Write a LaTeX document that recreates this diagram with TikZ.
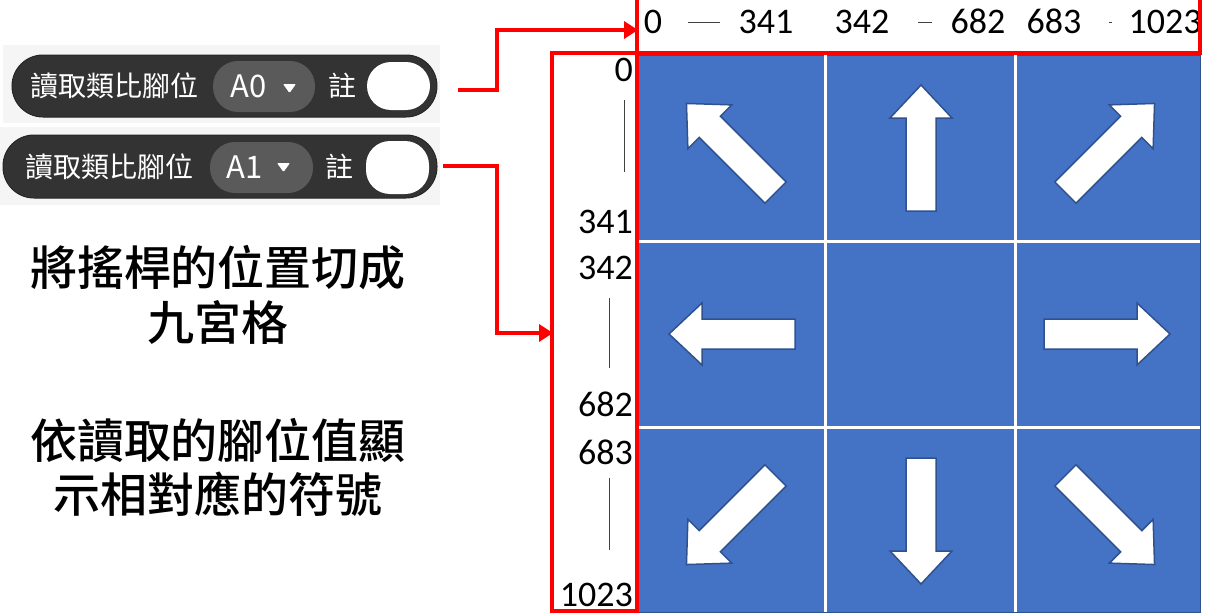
\documentclass[tikz,border=0pt]{standalone}
\usepackage{fontspec}
\setmainfont{Carlito}
\newfontfamily\cjk{Noto Sans CJK TC}
\newfontfamily\cjkb{Noto Sans CJK TC Medium}
\usetikzlibrary{arrows.meta}
\definecolor{cellblue}{HTML}{4472C4}
\definecolor{edgeblue}{HTML}{2F528F}
\definecolor{pilldark}{HTML}{333333}
\definecolor{ddgray}{HTML}{5A5A5A}
\definecolor{bggray}{HTML}{F5F5F5}
\definecolor{numgray}{HTML}{404040}
\tikzset{
  redline/.style={draw=red, line width=3.5pt},
  redarrow/.style={red, line width=3.5pt, -{Triangle[length=14pt,width=17pt]}},
  pill/.style={fill=pilldark, draw=black!85, line width=1pt, rounded corners=31pt},
  dropdown/.style={fill=ddgray, rounded corners=25pt},
  notebox/.style={fill=white, rounded corners=24pt},
  pilltext/.style={text=white, font=\cjk\fontsize{28}{30}\selectfont, inner sep=0pt},
  ddtext/.style={text=white, font=\cjk\fontsize{31}{33}\selectfont, inner sep=0pt},
  num/.style={font=\fontsize{36}{38}\selectfont, inner sep=0pt, anchor=base},
  tick/.style={draw=numgray, line width=1pt},
  bigtext/.style={font=\cjkb\fontsize{47}{54}\selectfont, inner sep=0pt},
  blockarr/.style={fill=white, draw=edgeblue, line width=1.5pt, line join=miter},
  gridline/.style={draw=white, line width=3pt}
}
\newcommand\BlkArrow[3]{%
  \draw[blockarr, shift={(#1,#2)}, rotate=#3]
    (-63,-15) -- (30,-15) -- (30,-31) -- (63,0) -- (30,31) -- (30,15) -- (-63,15) -- cycle;}
\begin{document}
\begin{tikzpicture}[x=1pt,y=-1pt]
\useasboundingbox (0,0) rectangle (1210,613);
% ---- blocks
\fill[bggray] (3,45) rectangle (440,123);
\fill[bggray] (0,127) rectangle (440,205);
\path[pill] (12,55) rectangle (437,117);
\path[dropdown] (213,61) rectangle (315,112);
\path[notebox] (367,62) rectangle (430,110);
\node[pilltext, anchor=west] (t1) at (30,86) {讀取類比腳位};
\node[ddtext] (a0) at (249,86) {A0};
\fill[white, rounded corners=1pt] (283,84) -- (296,84) -- (289.5,93) -- cycle;
\node[pilltext] (n1) at (342,86) {註};

\path[pill] (3,135) rectangle (437,198);
\path[dropdown] (210,142) rectangle (313,193);
\path[notebox] (366,141) rectangle (429,194);
\node[pilltext, anchor=west] (t2) at (25,167) {讀取類比腳位};
\node[ddtext] (a1) at (245,167) {A1};
\fill[white, rounded corners=1pt] (277,163) -- (290,163) -- (283.5,172) -- cycle;
\node[pilltext] (n2) at (339,167) {註};

% ---- left big text
\node[bigtext] (l1) at (218,268) {將搖桿的位置切成};
\node[bigtext] (l2) at (218,322) {九宮格};
\node[bigtext] (l3) at (218,440) {依讀取的腳位值顯};
\node[bigtext] (l4) at (218,494) {示相對應的符號};

% ---- grid
\fill[cellblue] (637,55) rectangle (1200,612);
\draw[edgeblue, line width=1pt] (637,55) rectangle (1200,612);
\draw[gridline] (825,55) -- (825,612);
\draw[gridline] (1015,55) -- (1015,612);
\draw[gridline] (637,241) -- (1200,241);
\draw[gridline] (637,427) -- (1200,427);

\BlkArrow{731}{148}{135}
\BlkArrow{921}{148}{90}
\BlkArrow{1110}{148}{45}
\BlkArrow{732}{334}{180}
\BlkArrow{1107}{334}{0}
\BlkArrow{731}{520}{225}
\BlkArrow{921}{521}{270}
\BlkArrow{1110}{520}{315}

% ---- top numbers
\node[num] (h0) at (653,33.5) {0};
\node[num] (h341) at (766,33.5) {341};
\node[num] (h342) at (862,33.5) {342};
\node[num] (h682) at (978,33.5) {682};
\node[num] (h683) at (1054,33.5) {683};
\node[num] (h1023) at (1165,33.5) {1023};
\draw[tick] (688,22) -- (720,22);
\draw[tick] (918,22) -- (932,22);
\draw[tick] (1109,22) -- (1112,22);

% ---- left numbers
\node[num, anchor=base east] (v0) at (633,81) {0};
\node[num, anchor=base east] (v341) at (633,233) {341};
\node[num, anchor=base east] (v342) at (633,279) {342};
\node[num, anchor=base east] (v682) at (633,416) {682};
\node[num, anchor=base east] (v683) at (633,464) {683};
\node[num, anchor=base east] (v1023) at (633,606) {1023};
\draw[tick] (624,100) -- (624,172);
\draw[tick] (609,298) -- (609,368);
\draw[tick] (609,478) -- (609,550);

% ---- red frames
\draw[redline] (637,-4) rectangle (1200,53);
\draw[redline] (552,53) rectangle (637,611);
\coordinate (s1) at (458,90);
\coordinate (e1) at (638,30);
\coordinate (s2) at (443,166);
\coordinate (e2) at (553,333);
\draw[redarrow] (s1) -- (497,90) |- (e1);
\draw[redarrow] (s2) -- (497,166) |- (e2);
\end{tikzpicture}
\end{document}
